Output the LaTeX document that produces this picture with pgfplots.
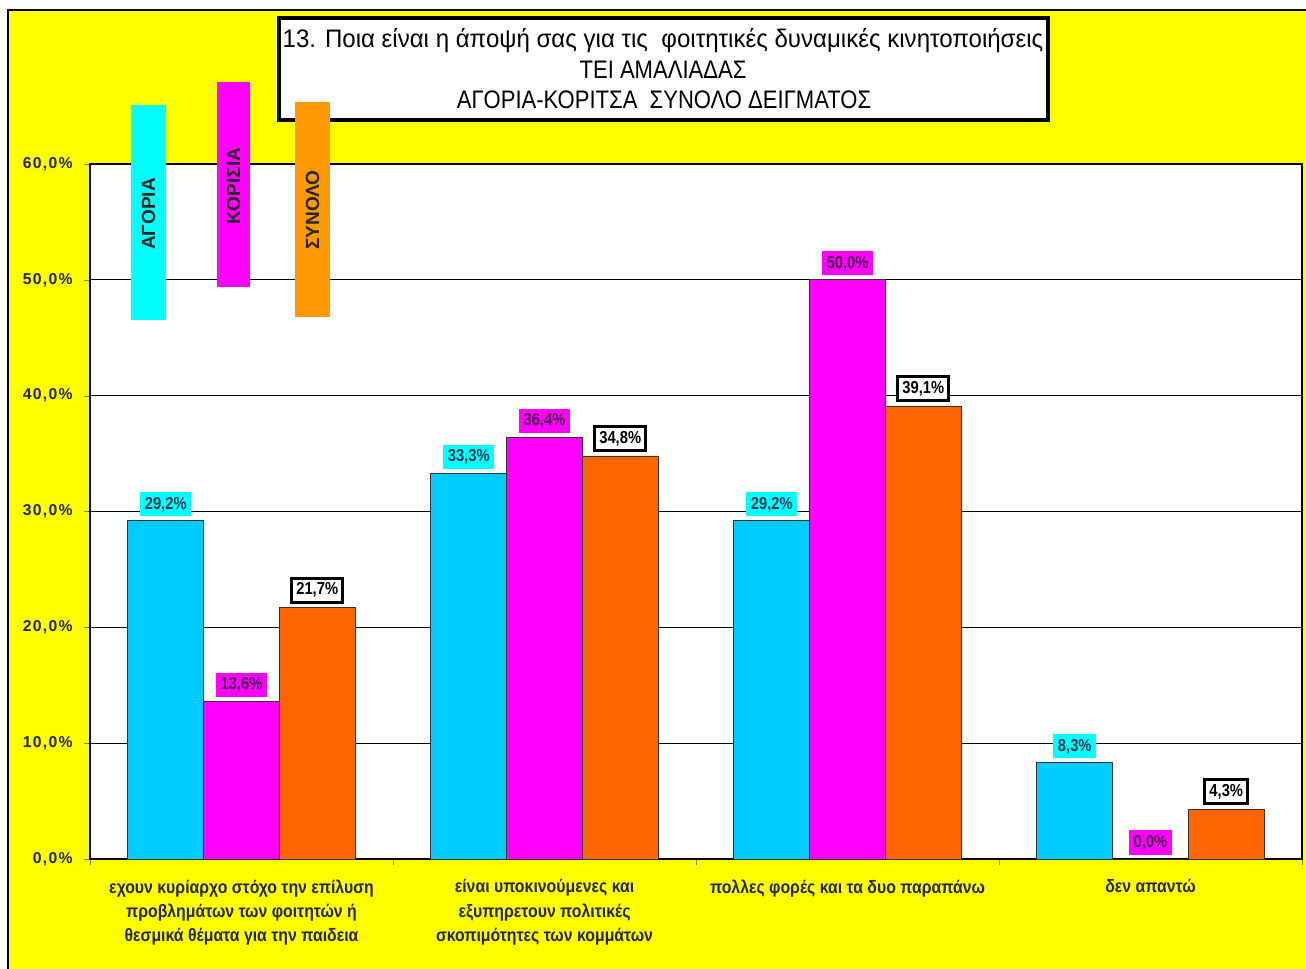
\documentclass[border=0pt]{standalone}
\usepackage{fontspec}
\setmainfont{Liberation Sans}
\newfontfamily\narrow[FakeStretch=0.85]{Liberation Sans}
\newfontfamily\narrowx[FakeStretch=0.88]{Liberation Sans}
\newfontfamily\titlea[FakeStretch=0.95]{Liberation Sans}
\newfontfamily\titleb[FakeStretch=0.87]{Liberation Sans}
\newfontfamily\ticks[LetterSpace=8]{Liberation Sans}
\usepackage{pgfplots}
\pgfplotsset{compat=1.18}
\definecolor{bgyellow}{HTML}{FFFF00}
\definecolor{barblue}{HTML}{00CCFF}
\definecolor{barmag}{HTML}{FF00FF}
\definecolor{barorange}{HTML}{FF6600}
\definecolor{legorange}{HTML}{FF9900}
\definecolor{labcyan}{HTML}{00FFFF}
\definecolor{txtblue}{HTML}{0D3B4F}
\definecolor{txtmag}{HTML}{4A0A4A}
\begin{document}
\begin{tikzpicture}[x=0.75pt,y=0.75pt]
\clip (0,0) rectangle (1306,968);
\fill[white] (0,0) rectangle (1306,968);
\draw[fill=bgyellow,draw=black,line width=0.9pt] (8,-20) rectangle (1330,958);
% title box
\draw[fill=white,line width=3pt] (279,950) rectangle (1048,848);
\node[font=\fontsize{19}{22}\selectfont\titlea] at (663,927) {13. Ποια είναι η άποψή σας για τις \ φοιτητικές δυναμικές κινητοποιήσεις};
\node[font=\fontsize{19}{22}\selectfont\titleb] at (663,898) {ΤΕΙ ΑΜΑΛΙΑΔΑΣ};
\node[font=\fontsize{19}{22}\selectfont\titleb] at (664,868) {ΑΓΟΡΙΑ-ΚΟΡΙΤΣΑ \ ΣΥΝΟΛΟ ΔΕΙΓΜΑΤΟΣ};
\begin{axis}[
  at={(67.5pt,81.75pt)}, anchor=south west,
  scale only axis, width=909pt, height=521.25pt,
  xmin=-0.5, xmax=3.5, ymin=0, ymax=60,
  axis background/.style={fill=white},
  ybar, bar width=0.25,
  ytick={0,10,...,60},
  ytick pos=left,
  tick align=outside,
  major tick length=4.5pt,
  ymajorgrids, grid style={black, line width=0.6pt},
  axis line style={black, line width=0.8pt},
  /pgf/number format/assume math mode=true,
  yticklabel={\pgfmathprintnumber[fixed,fixed zerofill,precision=1,use comma]{\tick}\%},
  yticklabel style={font=\fontsize{11.8}{13}\selectfont\ticks\bfseries, text=black!85, xshift=-5pt},
  xtick={-0.5,0.5,1.5,2.5,3.5}, xticklabels={},
  xtick pos=bottom,
  extra x ticks={0,1,2,3},
  extra x tick style={major tick length=0pt, grid=none},
  extra x tick labels={{εχουν κυρίαρχο στόχο την επίλυση\\προβλημάτων των φοιτητών ή\\θεσμικά θέματα για την παιδεια},{είναι υποκινούμενες και\\εξυπηρετουν πολιτικές\\σκοπιμότητες των κομμάτων},{πολλες φορές και τα δυο παραπάνω},{δεν απαντώ}},
  x tick label style={align=center, anchor=north, yshift=-12pt, font=\fontsize{13.5}{18.2}\selectfont\narrowx\bfseries, text=black!85},
  nodes near coords={\pgfmathprintnumber[fixed,fixed zerofill,precision=1,use comma]{\pgfplotspointmeta}\%},
  every node near coord/.append style={font=\fontsize{13}{15}\selectfont\narrow\bfseries, inner xsep=3.5pt, inner ysep=3.5pt, yshift=3pt},
]
\addplot+[bar shift=-0.25, fill=barblue, draw=black!80, line width=0.6pt,
  every node near coord/.append style={fill=labcyan, text=txtblue}]
  coordinates {(0,29.2) (1,33.3) (2,29.2) (3,8.3)};
\addplot+[bar shift=0, fill=barmag, draw=black!80, line width=0.6pt,
  every node near coord/.append style={fill=barmag, text=txtmag}]
  coordinates {(0,13.6) (1,36.4) (2,50.0) (3,0.0)};
\addplot+[bar shift=0.25, fill=barorange, draw=black!80, line width=0.6pt,
  every node near coord/.append style={fill=white, draw=black, line width=2.2pt, text=black}]
  coordinates {(0,21.7) (1,34.8) (2,39.1) (3,4.3)};
\end{axis}
% legend strips
\fill[labcyan] (131,863) rectangle (166,648);
\node[rotate=90, font=\fontsize{14.3}{16}\selectfont\bfseries, text=black!85] at (148.5,754) {ΑΓΟΡΙΑ};
\fill[barmag] (217,886) rectangle (250,681);
\node[rotate=90, font=\fontsize{14.3}{16}\selectfont\bfseries, text=black!85] at (233.5,782) {ΚΟΡΙΣΙΑ};
\fill[legorange] (295,866) rectangle (330,651);
\node[rotate=90, font=\fontsize{14.3}{16}\selectfont\bfseries, text=black!85] at (312.5,758) {ΣΥΝΟΛΟ};
\end{tikzpicture}
\end{document}
